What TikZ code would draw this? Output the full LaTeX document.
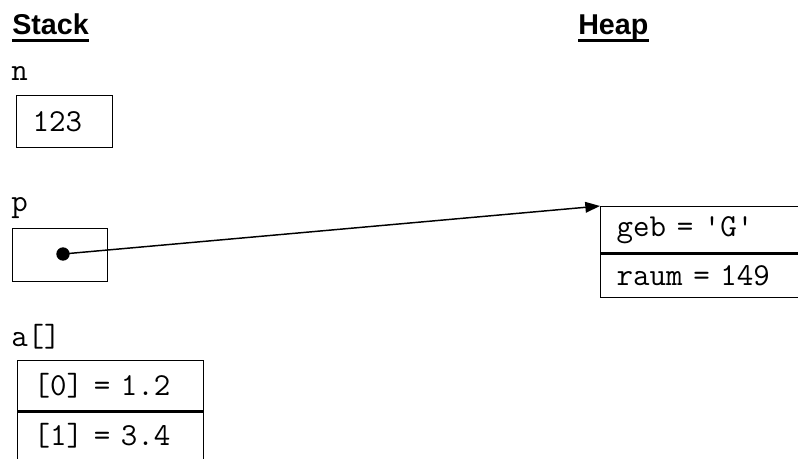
\documentclass[tikz,border=0pt]{standalone}
\usepackage{fontspec}
\setmainfont{Liberation Sans}
\setsansfont{Liberation Sans}
\usetikzlibrary{arrows.meta, positioning}

\begin{document}
\begin{tikzpicture}[x=0.75pt, y=-0.75pt]
    \tikzstyle{every node} = [text=black]
    \tikzstyle{heading} = [font=\sffamily\bfseries\fontsize{21.5}{25}\selectfont, anchor=base west, inner sep=0pt]
    \tikzstyle{varname} = [font=\ttfamily\fontsize{24}{28}\selectfont, anchor=base west, inner sep=0pt]
    \tikzstyle{slot} = [draw, line width=1.1pt, anchor=north west, font=\ttfamily\fontsize{24}{28}\selectfont,
                        inner xsep=12pt, inner ysep=0pt, align=left]
    \tikzstyle{underl} = [line width=2.3pt]
    \tikzstyle{divider} = [line width=2.2pt]

    \useasboundingbox (0,0) rectangle (798,459);
    \clip (0,0) rectangle (798,459);

    % headings
    \node[heading] (stack) at (12,35)  {Stack};
    \node[heading] (heap)  at (578,35) {Heap};
    \draw[underl] ([yshift=-4pt]stack.base west) -- ([yshift=-4pt]stack.base east);
    \draw[underl] ([yshift=-4pt]heap.base west) -- ([yshift=-4pt]heap.base east);

    % stack variables
    \node[varname] (nname) at (11,81)  {n};
    \node[slot, text width=48pt, minimum height=39pt] (nbox) at (16,95) {123};

    \node[varname] (pname) at (11,212) {p};
    \node[draw, line width=1.1pt, anchor=north west, inner sep=0pt,
          minimum width=71.25pt, minimum height=39.75pt] (pbox) at (12,228) {};
    \node[circle, fill=black, inner sep=0pt, minimum size=10pt] (pdot) at (63,254) {};

    \node[varname] (aname) at (11,346) {a[]};
    \node[slot, text width=115.5pt, minimum height=37.5pt] (a0) at (17,360) {[0] = 1.2};
    \node[slot, text width=115.5pt, minimum height=37.5pt] (a1) at (17,410) {[1] = 3.4};
    \draw[divider] (a0.south west) -- (a0.south east);

    % heap object
    \node[slot, text width=160pt, minimum height=34.5pt]  (geb)  at (600,206) {geb = 'G'};
    \node[slot, text width=160pt, minimum height=33.75pt] (raum) at (600,252) {raum = 149};
    \draw[divider] (geb.south west) -- (geb.south east);

    % reference
    \path (pdot.center) edge[line width=1.1pt, -{Triangle[length=11pt, width=8pt]}] (geb.north west);

\end{tikzpicture}
\end{document}
